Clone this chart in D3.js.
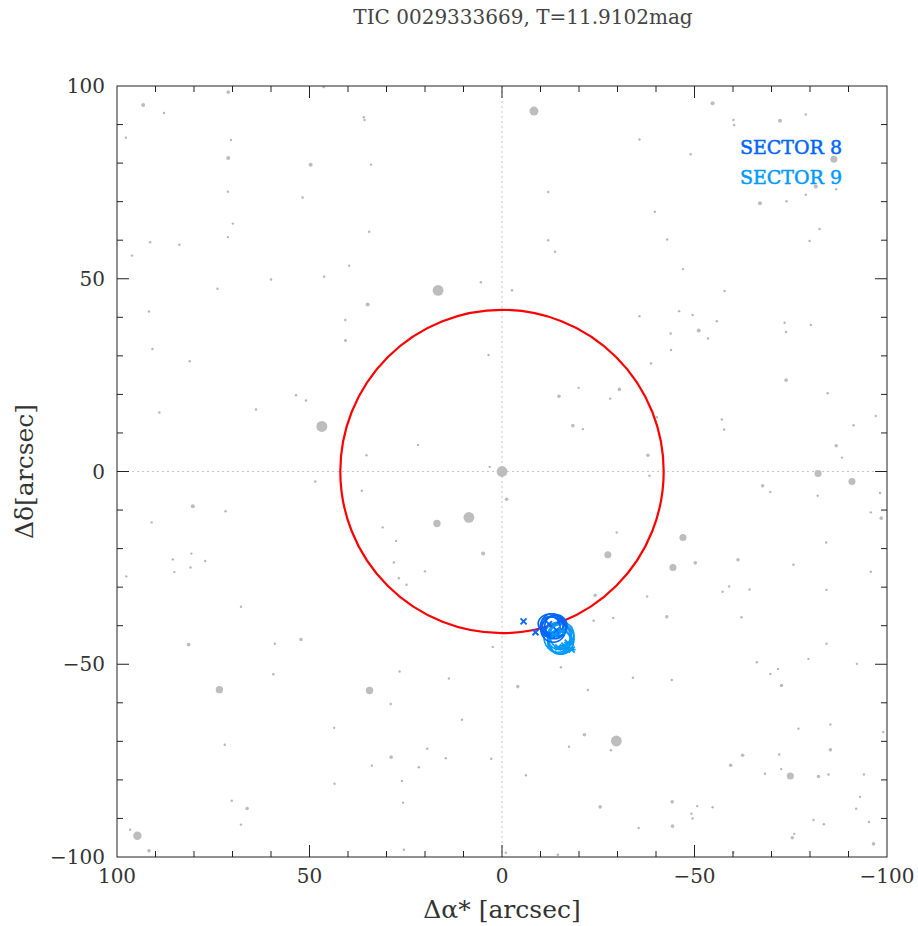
<!DOCTYPE html>
<html>
<head>
<meta charset="utf-8">
<script src="https://cdn.jsdelivr.net/npm/d3@7/dist/d3.min.js"></script>
<style>
  html, body { margin: 0; padding: 0; background: #fff; }
  svg { display: block; }
</style>
</head>
<body>
<svg id="chart" width="918" height="926"></svg>
<script>
// Field of view around the target, offsets in arcsec, with TESS magnitudes.
const titleText = "TIC 0029333669, T=11.9102mag";
const xLabel = "Δα* [arcsec]";
const yLabel = "Δδ[arcsec]";
const majorTicks = [-100, -50, 0, 50, 100];
const minorTicks = d3.range(-100, 101, 10);
const apertureRadius = 42;

// Field stars: [Δα*, Δδ, Tmag]
const stars = [
  [0, 0, 11.91], [-8.3, 93.5, 13.2], [16.6, 47.0, 11.9], [46.8, 11.7, 11.8],
  [8.6, -11.9, 11.9], [16.9, -13.5, 14.3], [-82.1, -0.5, 14.5], [-90.9, -2.6, 14.5],
  [-27.5, -21.6, 14.5], [-47.0, -17.1, 14.5], [-44.4, -24.9, 14.5], [-29.7, -69.9, 11.9],
  [73.4, -56.6, 14.3], [34.4, -56.8, 14.3], [94.7, -94.5, 13.6], [-74.9, -79.0, 14.5],
  [-86.2, 81.0, 14.5], [-17.4, -40.8, 13.6],
  [4.9, -21.3, 16.6], [80.3, -9.0, 16.6], [-30.5, 21.3, 16.9], [-14.8, 19.5, 16.9],
  [-18.4, 11.9, 16.9], [-37.9, 4.2, 16.9], [-73.8, 23.7, 16.9], [-86.8, 6.7, 16.9],
  [-67.7, -3.7, 16.9], [-98.5, -12.1, 16.9], [-1.2, -7.2, 16.9], [-50.2, -23.7, 16.9],
  [-61.3, -22.9, 16.9], [-24.2, -32.1, 16.9], [81.4, -44.9, 16.9], [52.2, -43.6, 16.9],
  [66.2, -87.4, 16.9], [28.8, -74.1, 16.9], [-42.8, -37.7, 16.9], [-4.1, -55.8, 16.9],
  [-21.4, -68.3, 16.9], [-25.5, -87.0, 16.9], [-44.2, -85.7, 16.9], [-44.3, -92.0, 16.9],
  [-59.4, -76.2, 16.9], [-62.5, -73.6, 16.9], [-72.6, -55.5, 16.9], [-82.2, -79.1, 16.9],
  [-85.3, -72.2, 16.9], [-75.4, -95.0, 16.9], [-96.5, -96.6, 16.9], [91.7, -98.4, 16.9],
  [71.1, 98.4, 16.9], [93.2, 95.1, 16.6], [71.1, 81.3, 16.6], [49.7, 79.6, 16.6],
  [34.9, 43.3, 16.6], [-54.7, 95.5, 16.6], [-72.2, 91.0, 16.6], [-81.5, 73.9, 16.6],
  [-67.0, 69.6, 16.6], [-51.1, 36.6, 16.6],
  // faint
  [90.8, 31.8, 17.7], [81.1, 28.6, 17.7], [89.0, 15.3, 17.7], [63.9, 16.1, 17.7],
  [53.5, 19.8, 17.7], [50.9, 18.4, 17.7], [48.5, -2.6, 17.7], [71.8, -10.3, 17.7],
  [91.0, -13.2, 17.7], [85.5, -22.8, 17.7], [80.7, -21.3, 17.7], [77.1, -23.2, 17.7],
  [85.1, -26.1, 17.7], [80.9, -24.9, 17.7], [97.6, -27.2, 17.7], [40.7, 34.0, 17.7],
  [35.2, 4.2, 17.7], [36.4, -5.0, 17.7], [21.8, 6.9, 17.7], [31.0, -14.5, 17.7],
  [27.5, -18.0, 17.7], [28.1, -23.6, 17.7], [26.8, -27.7, 17.7], [24.8, -29.4, 17.7],
  [20.0, -25.9, 17.7], [3.5, 30.2, 17.7], [3.2, 1.2, 17.7],
  [-21.0, 11.0, 17.7], [-19.9, 21.7, 17.7], [-28.1, 18.9, 17.7], [-38.3, -1.1, 17.7],
  [-38.7, 28.0, 17.7], [-43.9, 31.5, 17.7], [-84.6, 20.3, 17.7], [-97.1, 14.4, 17.7],
  [-91.3, 12.0, 17.7], [-88.3, 3.6, 17.7], [-69.7, -5.3, 17.7], [-82.0, -6.3, 17.7],
  [-98.2, -5.6, 17.7], [-95.8, -10.6, 17.7], [-75.7, -24.2, 17.7], [-84.2, -18.4, 17.7],
  [-95.8, -26.0, 17.7], [-29.8, -15.8, 17.7], [-57.1, 13.5, 17.7], [-57.7, 10.9, 17.7],
  [-64.3, -30.6, 17.7], [-59.0, -29.8, 17.7], [-57.3, -31.2, 17.7], [-84.3, -30.7, 17.7],
  [-37.7, -32.4, 17.7], [-40.2, 14.1, 17.7],
  [96.6, -92.9, 17.7], [81.4, -44.9, 17.7], [59.0, -44.7, 17.7], [67.8, -35.1, 17.7],
  [59.4, -52.6, 17.7], [72.0, -70.9, 17.7], [70.2, -85.4, 17.7], [67.8, -91.6, 17.7],
  [43.6, -66.5, 17.7], [43.5, -81.0, 17.7], [33.8, -76.3, 17.7], [26.6, -51.9, 17.7],
  [28.9, -60.3, 17.7], [13.8, -53.7, 17.7], [2.4, -45.5, 17.7], [10.4, -64.4, 17.7],
  [19.4, -71.9, 17.7], [14.6, -74.4, 17.7], [2.8, -74.5, 17.7], [21.6, -76.7, 17.7],
  [26.0, -80.3, 17.7], [25.7, -85.9, 17.7], [25.5, -98.1, 17.7],
  [-62.2, -37.8, 17.7], [-84.3, -44.7, 17.7], [-79.6, -48.6, 17.7], [-92.2, -49.9, 17.7],
  [-66.2, -49.5, 17.7], [-69.7, -52.5, 17.7], [-71.7, -51.2, 17.7], [-34.0, -53.5, 17.7],
  [-44.1, -54.1, 17.7], [-15.3, -50.8, 17.7], [-22.3, -56.7, 17.7], [-23.8, -38.7, 17.7],
  [-28.9, -38.0, 17.7], [-17.4, -71.4, 17.7], [-28.3, -72.3, 17.7], [-6.2, -78.8, 17.7],
  [-77.0, -66.7, 17.7], [-85.3, -65.6, 17.7], [-72.0, -73.4, 17.7], [-72.5, -77.2, 17.7],
  [-68.3, -78.4, 17.7], [-84.8, -78.6, 17.7], [-94.0, -78.6, 17.7], [-99.0, -67.6, 17.7],
  [-93.0, -84.4, 17.7], [-92.0, -87.5, 17.7], [-95.3, -90.9, 17.7], [-80.9, -90.4, 17.7],
  [-83.6, -91.5, 17.7], [-75.9, -94.0, 17.7], [-50.7, -86.8, 17.7], [-54.7, -87.1, 17.7],
  [-49.2, -88.8, 17.7], [-49.5, -90.0, 17.7], [-35.5, -92.5, 17.7], [-14.5, -99.4, 17.7],
  [-60.1, -98.9, 17.7], [-1.0, -98.9, 17.7],
  [87.8, 93.0, 17.7], [97.7, 86.6, 17.7], [70.4, 86.0, 17.7], [34.0, 79.6, 17.7],
  [35.9, 91.9, 17.7], [35.7, 91.2, 17.7], [46.3, 99.7, 17.7], [71.2, 72.6, 17.7],
  [51.8, 71.1, 17.7], [69.9, 64.3, 17.7], [71.2, 60.8, 17.7], [34.5, 62.2, 17.7],
  [91.4, 59.5, 17.7], [83.8, 58.8, 17.7], [96.1, 56.0, 17.7], [39.7, 53.4, 17.7],
  [60.0, 49.8, 17.7], [46.2, 50.5, 17.7], [73.9, 47.4, 17.7], [91.7, 41.5, 17.7],
  [40.7, 39.3, 17.7], [40.6, 34.0, 17.7],
  [-78.9, 92.6, 17.7], [-60.1, 91.2, 17.7], [-60.3, 89.9, 17.7], [-35.7, 86.1, 17.7],
  [-49.0, 82.3, 17.7], [-86.8, 73.2, 17.7], [-78.9, 71.8, 17.7], [-73.9, 70.1, 17.7],
  [-39.7, 67.4, 17.7], [-42.9, 60.2, 17.7], [-82.5, 62.9, 17.7], [-79.9, 59.8, 17.7],
  [-47.0, 52.5, 17.7], [-57.8, 46.8, 17.7], [-35.7, 40.3, 17.7], [-46.0, 41.6, 17.7],
  [-49.5, 40.6, 17.7], [-55.8, 39.0, 17.7], [-43.8, 35.8, 17.7], [-53.5, 34.5, 17.7],
  [-73.4, 38.6, 17.7], [-80.2, 38.0, 17.7], [-73.8, 36.2, 17.7],
  [5.5, 49.1, 17.7], [-2.6, 47.0, 17.7], [-12.0, 60.0, 17.7], [-12.0, 72.5, 17.7],
  [-13.8, 57.0, 17.7]
];

// Per-sector centroid fits: circles [Δα*, Δδ, rα, rδ] and measured offsets [Δα*, Δδ]
const sectors = ["SECTOR 8", "SECTOR 9"];
const sectorColors = ["#0066ff", "#0099ff"];
const sector8Rings = [
  [-13.0, -39.8, 2.9, 2.9], [-13.6, -40.4, 3.1, 3.0], [-12.5, -40.3, 2.6, 2.7],
  [-14.0, -40.0, 2.9, 2.8], [-13.3, -41.0, 3.2, 3.3], [-12.8, -39.5, 3.4, 2.6]
];
const sector8Marks = [
  [-5.6, -38.9], [-8.7, -41.7], [-12.2, -39.6], [-14.2, -41.2], [-15.0, -38.6], [-11.0, -41.0],
  [-13.0, -42.5]
];
const sector9Rings = [
  [-14.8, -42.8, 3.0, 3.4], [-15.3, -43.5, 3.4, 3.8], [-15.0, -44.0, 2.8, 3.2],
  [-14.5, -43.0, 3.6, 3.9], [-15.6, -42.6, 3.1, 3.5], [-15.2, -44.4, 3.3, 3.0]
];
const sector9Marks = [
  [-17.1, -44.4], [-18.1, -46.2], [-16.2, -45.2], [-13.6, -42.3], [-15.5, -41.5],
  [-14.6, -45.6]
];

const svg = d3.select("#chart");
const m = { left: 117, right: 887, top: 86, bottom: 857 };

const x = d3.scaleLinear().domain([100, -100]).range([m.left, m.right]);
const y = d3.scaleLinear().domain([-100, 100]).range([m.bottom, m.top]);
const rScale = d3.scaleLinear().domain([11.5, 18]).range([5.7, 1.0]).clamp(true);

const serif = "'DejaVu Serif', 'Liberation Serif', serif";

svg.append("defs").append("clipPath").attr("id", "plotclip")
  .append("rect").attr("x", m.left).attr("y", m.top)
  .attr("width", m.right - m.left).attr("height", m.bottom - m.top);

const plot = svg.append("g").attr("clip-path", "url(#plotclip)");

// Crosshair through the target
plot.append("line").attr("x1", x(0)).attr("x2", x(0)).attr("y1", m.top).attr("y2", m.bottom)
  .attr("stroke", "#c8c8c8").attr("stroke-width", 1).attr("stroke-dasharray", "2,3");
plot.append("line").attr("x1", m.left).attr("x2", m.right).attr("y1", y(0)).attr("y2", y(0))
  .attr("stroke", "#c8c8c8").attr("stroke-width", 1).attr("stroke-dasharray", "2,3");

// Field stars
plot.append("g").selectAll("circle").data(stars).join("circle")
  .attr("cx", d => x(d[0])).attr("cy", d => y(d[1]))
  .attr("r", d => rScale(d[2]))
  .attr("fill", d => d[2] > 17 ? "#b8b8b8" : "#bdbdbd");

// Aperture
plot.append("circle").attr("cx", x(0)).attr("cy", y(0))
  .attr("r", x(0) - x(apertureRadius))
  .attr("fill", "none").attr("stroke", "#ff0000").attr("stroke-width", 2.2);

// Sector centroids
function drawRings(data, color) {
  plot.append("g").selectAll("ellipse").data(data).join("ellipse")
    .attr("cx", d => x(d[0])).attr("cy", d => y(d[1]))
    .attr("rx", d => x(0) - x(d[2])).attr("ry", d => y(0) - y(d[3]))
    .attr("fill", "none").attr("stroke", color).attr("stroke-width", 1.6);
}
function drawCross(data, color, star) {
  const g = plot.append("g").attr("stroke", color).attr("stroke-width", 1.8);
  data.forEach(d => {
    const cx = x(d[0]), cy = y(d[1]), s = 3;
    g.append("line").attr("x1", cx - s).attr("x2", cx + s).attr("y1", cy - s).attr("y2", cy + s);
    g.append("line").attr("x1", cx - s).attr("x2", cx + s).attr("y1", cy + s).attr("y2", cy - s);
    if (star) {
      g.append("line").attr("x1", cx - s * 1.3).attr("x2", cx + s * 1.3).attr("y1", cy).attr("y2", cy);
    }
  });
}
drawRings(sector9Rings, sectorColors[1]);
drawRings(sector8Rings, sectorColors[0]);
drawCross(sector8Marks, sectorColors[0], false);
drawCross(sector9Marks, sectorColors[1], true);

// Frame and ticks (inward, all four sides)
svg.append("rect").attr("x", m.left).attr("y", m.top)
  .attr("width", m.right - m.left).attr("height", m.bottom - m.top)
  .attr("fill", "none").attr("stroke", "#222").attr("stroke-width", 1);

const tickLen = v => (v % 50 === 0 ? 12 : 6);
const ticks = svg.append("g").attr("stroke", "#222").attr("stroke-width", 1);
minorTicks.forEach(v => {
  if (v === -100 || v === 100) return;
  const L = tickLen(v);
  ticks.append("line").attr("x1", x(v)).attr("x2", x(v)).attr("y1", m.bottom).attr("y2", m.bottom - L);
  ticks.append("line").attr("x1", x(v)).attr("x2", x(v)).attr("y1", m.top).attr("y2", m.top + L);
  ticks.append("line").attr("y1", y(v)).attr("y2", y(v)).attr("x1", m.left).attr("x2", m.left + L);
  ticks.append("line").attr("y1", y(v)).attr("y2", y(v)).attr("x1", m.right).attr("x2", m.right - L);
});

const fmt = v => (v < 0 ? "\u2212" + Math.abs(v) : String(v));

svg.append("g").selectAll("text").data(majorTicks).join("text")
  .attr("x", d => x(d)).attr("y", m.bottom + 26)
  .attr("text-anchor", "middle")
  .attr("font-family", serif).attr("font-size", 20).attr("fill", "#333")
  .text(fmt);

svg.append("g").selectAll("text").data(majorTicks).join("text")
  .attr("x", m.left - 12).attr("y", d => y(d) + 7)
  .attr("text-anchor", "end")
  .attr("font-family", serif).attr("font-size", 20).attr("fill", "#333")
  .text(fmt);

// Titles
svg.append("text").attr("x", 523).attr("y", 24).attr("text-anchor", "middle")
  .attr("font-family", serif).attr("font-size", 20).attr("fill", "#444")
  .text(titleText);

svg.append("text").attr("x", 502).attr("y", 918).attr("text-anchor", "middle")
  .attr("font-family", serif).attr("font-size", 25).attr("fill", "#333")
  .text(xLabel);

svg.append("text").attr("transform", `translate(33,${y(0)}) rotate(-90)`)
  .attr("text-anchor", "middle")
  .attr("font-family", serif).attr("font-size", 25).attr("fill", "#333")
  .text(yLabel);

// Legend
svg.append("g").selectAll("text").data(sectors).join("text")
  .attr("x", 842).attr("y", (d, i) => 154 + i * 30)
  .attr("text-anchor", "end")
  .attr("font-family", serif).attr("font-size", 19)
  .attr("stroke", (d, i) => sectorColors[i]).attr("stroke-width", 0.5)
  .attr("fill", (d, i) => sectorColors[i])
  .text(d => d);
</script>
</body>
</html>
